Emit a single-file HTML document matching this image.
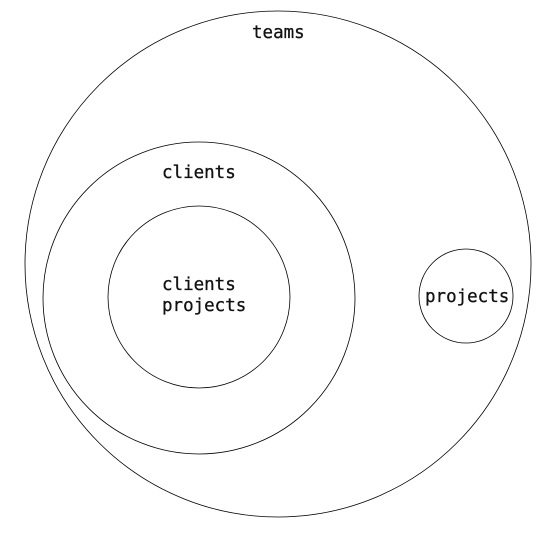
<!DOCTYPE html>
<html><head><style>body{margin:0;background:#fff}</style></head><body>
<svg width="557" height="536" xmlns="http://www.w3.org/2000/svg" style="display:block">
<g fill="none" stroke="#000" stroke-width="0.8">
<circle cx="278" cy="264" r="253"/>
<circle cx="199" cy="298" r="156"/>
<circle cx="199" cy="297" r="91"/>
<circle cx="466" cy="296" r="47"/>
</g>
<g font-family="DejaVu Sans Mono, Liberation Mono, monospace" font-size="17.5" fill="#111" stroke="#111" stroke-width="0.3">
<text x="252" y="38">teams</text>
<text x="162" y="178">clients</text>
<text x="162" y="290">clients</text>
<text x="162" y="311">projects</text>
<text x="425" y="302">projects</text>
</g>
</svg>
</body></html>
